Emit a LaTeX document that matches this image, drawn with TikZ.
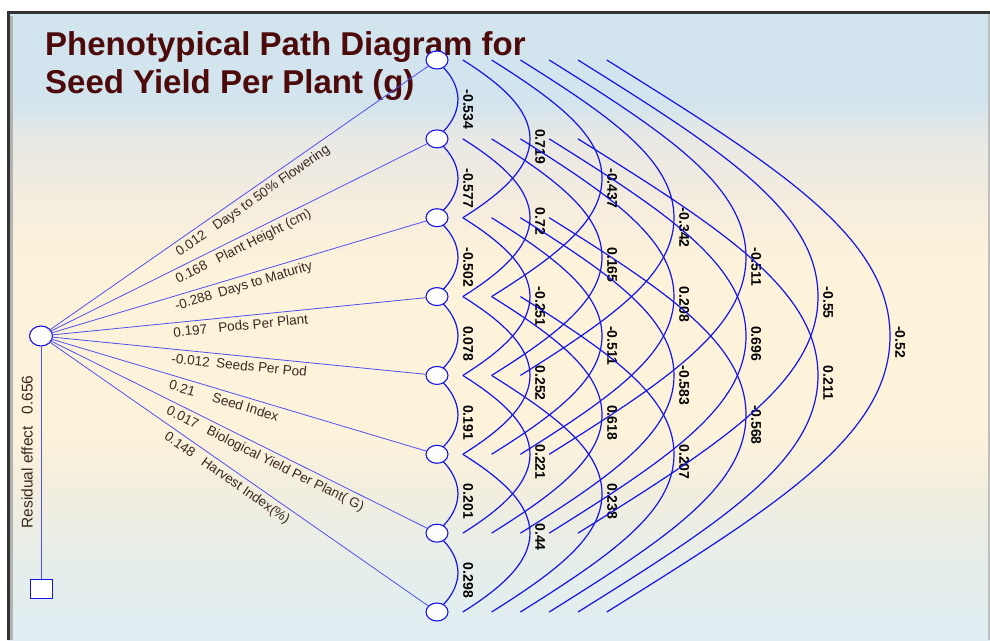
\documentclass[tikz,border=0pt]{standalone}
\usepackage{fontspec}
\setmainfont{Liberation Sans}
\usetikzlibrary{shapes.geometric}
\usetikzlibrary{calc}
\definecolor{titleColor}{RGB}{77,10,10}
\definecolor{textColor}{RGB}{58,40,30}
\definecolor{curveColor}{RGB}{20,20,235}
\definecolor{pathColor}{RGB}{80,80,240}
\definecolor{bgTop}{RGB}{210,228,238}
\definecolor{bgGrey}{RGB}{232,232,228}
\definecolor{bgSand}{RGB}{244,236,222}
\definecolor{bgCream}{RGB}{253,243,218}
\definecolor{bgPale}{RGB}{242,238,222}
\definecolor{bgGreen}{RGB}{230,238,234}
\definecolor{bgBottom}{RGB}{224,237,242}
\pgfdeclarelayer{background}
\pgfsetlayers{background,main}
%% Pale bands of the panel, bottom to top.
\pgfdeclareverticalshading{panelShading}{100bp}{%%
  color(0bp)=(bgBottom); color(25bp)=(bgBottom); color(31bp)=(bgGreen);
  color(37bp)=(bgPale); color(42bp)=(bgCream); color(55bp)=(bgCream);
  color(60bp)=(bgSand); color(65bp)=(bgGrey); color(68bp)=(bgTop);
  color(100bp)=(bgTop)}

\begin{document}
\begin{tikzpicture}[x=1pt,y=-1pt,%%
  traitNode/.style={ellipse,draw=curveColor,fill=white,line width=1.1pt,%%
    minimum width=22pt,minimum height=18pt,inner sep=0pt},%%
  yieldNode/.style={traitNode,minimum width=23pt,minimum height=20pt},%%
  residualNode/.style={rectangle,draw=curveColor,fill=white,line width=1pt,%%
    minimum width=22pt,minimum height=19pt,inner sep=0pt},%%
  pathStyle/.style={-,pathColor,line width=0.8pt},%%
  curveStyle/.style={-,curveColor,line width=1.2pt},%%
  pathLabel/.style={textColor,font=\fontsize{13.5}{16}\selectfont,%%
    inner xsep=0pt,inner ysep=4pt},%%
  corrLabel/.style={black,font=\fontsize{14}{16}\selectfont\bfseries,%%
    inner sep=0pt,rotate=-90,anchor=south west},%%
  titleStyle/.style={titleColor,font=\fontsize{33}{38}\selectfont\bfseries,%%
    inner sep=0pt,anchor=base west}%%
]
\useasboundingbox (0,0) rectangle (990,640);
%%
%% Traits on the right, yield on the left, residual below it.
\foreach \k in {1,...,8}
  \node[traitNode] (v\k) at (437,{60+78.857*(\k-1)}) {};
\node[yieldNode] (yield) at (41,336) {};
\node[residualNode] (residual) at (41,589) {};
%%
\begin{pgfonlayer}{background}
\fill[white] (0,0) rectangle (990,640);
\shade[shading=panelShading] (8,12) rectangle (990,640);
\draw[line width=3pt,black!80] (8.5,640) -- (8.5,12.5) -- (990,12.5);
\draw[line width=3pt,black!30] (11.5,640) -- (11.5,15.5);
\draw[line width=2pt,black!25] (989,14) -- (989,640);
\node[titleStyle] (titleA) at (45,55) {Phenotypical Path Diagram for};
\node[titleStyle] (titleB) at (45,93) {Seed Yield Per Plant (g)};
%%
%% Direct effects on seed yield.
\foreach \k/\effect/\trait in {1/0.012/Days to 50\% Flowering,%%
    2/0.168/Plant Height (cm),3/-0.288/Days to Maturity,%%
    4/0.197/Pods Per Plant,5/-0.012/Seeds Per Pod,6/0.21/Seed Index,%%
    7/0.017/Biological Yield Per Plant( G),8/0.148/Harvest Index(\%)}
  \draw[pathStyle] (yield) -- (v\k)
    node[pathLabel,pos=0.32,sloped,anchor=north west]
    {\makebox[45pt][l]{\effect}\trait};
\draw[pathStyle] (yield) -- (residual);
\node[pathLabel,rotate=90,font=\fontsize{15.5}{18}\selectfont]
  (residualText) at (27,452) {Residual effect\hspace{12pt}0.656};
%%
%% Correlations between the traits.
\foreach \i/\j/\corr in {1/2/-0.534,2/3/-0.577,3/4/-0.502,4/5/0.078,%%
    5/6/0.191,6/7/0.201,7/8/0.298,%%
    1/3/0.719,2/4/0.72,3/5/-0.251,4/6/0.252,5/7/0.221,6/8/0.44,%%
    1/4/-0.437,2/5/0.165,3/6/-0.511,4/7/0.618,5/8/0.238,%%
    1/5/-0.342,2/6/0.208,3/7/-0.583,4/8/0.207,%%
    1/6/-0.511,2/7/0.696,3/8/-0.568,%%
    1/7/-0.55,2/8/0.211,%%
    1/8/-0.52}{
  \pgfmathsetmacro{\dd}{\j-\i}
  \pgfmathsetmacro{\xs}{28.8*(\dd-1)-3}   %% Start offset at both ends.
  \pgfmathsetmacro{\xa}{21+72*(\dd-1)}    %% Offset of the apex.
  \pgfmathsetmacro{\dx}{\xa-\xs}
  \pgfmathsetmacro{\dy}{39.43*\dd}
  \draw[curveStyle] ($(v\i)+(\xs,0)$)
    .. controls +(0.6*\dx,0.375*\dx) and +(0,-0.36*\dy) ..
    ($(v\i)!0.5!(v\j)+(\xa,0)$)
    .. controls +(0,0.36*\dy) and +(0.6*\dx,-0.375*\dx) ..
    ($(v\j)+(\xs,0)$);
  \node[corrLabel] (r\i\j) at ($(v\i)!0.5!(v\j)+(\xa+5,-10)$) {\corr};
}
\end{pgfonlayer}
\end{tikzpicture}
\end{document}
